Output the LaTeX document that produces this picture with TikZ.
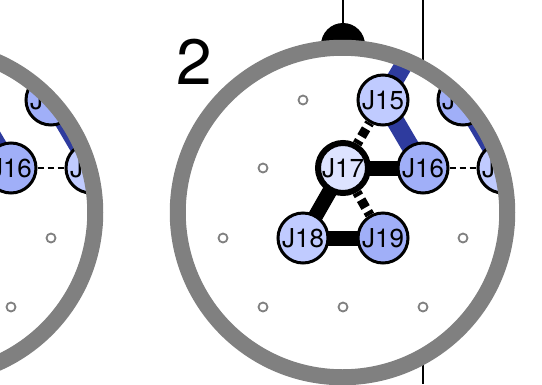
\documentclass[tikz,border=0pt]{standalone}
\usepackage{fontspec}
\setmainfont{TeX Gyre Heros}
\definecolor{qbLight}{HTML}{C0CBFF}
\definecolor{qbMid}{HTML}{A0AFF8}
\definecolor{qbPale}{HTML}{DDE3FF}
\definecolor{busBlue}{HTML}{2E3B9E}
\definecolor{ringGray}{HTML}{808080}
\pgfdeclarelayer{bg}
\pgfsetlayers{bg,main}

\begin{document}
\begin{tikzpicture}[
        x=1pt, y=-1pt,
        qubit/.style={circle, draw=black, line width=3pt, minimum size=50pt, inner sep=0pt, font=\fontsize{26pt}{26pt}\selectfont},
        light/.style={qubit, fill=qbLight},
        mid/.style={qubit, fill=qbMid},
        centre/.style={qubit, fill=qbPale, line width=6pt},
        site/.style={circle, draw=ringGray, line width=1.8pt, minimum size=9pt, inner sep=0pt},
        bus/.style={busBlue, line width=18pt},
        strong/.style={line width=15pt},
        weak/.style={line width=9.5pt, dash pattern=on 9pt off 4.5pt, dash phase=5pt},
        link/.style={line width=2.2pt, dash pattern=on 6pt off 4pt},
        ring/.style={draw=ringGray, line width=16pt},
        wire/.style={line width=2.2pt}
    ]
        \useasboundingbox (0,0) rectangle (542,384);

        % --- feed lines of the right chip ---
        \begin{pgfonlayer}{bg}
            \draw[wire] (423,0) -- (423,384);
            \draw[wire] (343,0) -- (343,30);
            \fill (343,45) circle[radius=22];
        \end{pgfonlayer}

        % --- two chips, the left one cut by the page ---
        \foreach \s/\dx in {L/-412, R/0} {
            \begin{scope}[xshift=\dx pt]
                \begin{scope}
                    \clip (342.5,212.5) circle[radius=164];
                    % empty lattice sites
                    \foreach \n/\px/\py in {a/303/100, b/263/168, c/223/238, d/463/238, e/263/307, f/343/307, g/423/307}
                        \node[site] (site\n\s) at (\px,\py) {};
                    \node[light]  (J15\s) at (383,100) {J15};
                    \node[mid]    (J16\s) at (423,168) {J16};
                    \node[centre] (J17\s) at (343,168) {J17};
                    \node[light]  (J18\s) at (303,238) {J18};
                    \node[mid]    (J19\s) at (383,238) {J19};
                    \node[mid]    (Ja\s)  at (463,100) {J\phantom{00}};
                    \node[light]  (Jb\s)  at (503,168) {J\phantom{00}};
                    \coordinate (J15up\s) at (423,32);
                \end{scope}
                \begin{pgfonlayer}{bg}
                    \fill[white] (342.5,212.5) circle[radius=172];
                    \begin{scope}
                        \clip (342.5,212.5) circle[radius=164];
                        \draw[bus] (J15\s.center) -- (J16\s.center);
                        \draw[bus] (J15\s.center) -- (J15up\s);
                        \draw[bus] (Ja\s.center) -- (Jb\s.center);
                        \draw[strong] (J17\s.center) -- (J16\s.center);
                        \draw[strong] (J17\s.center) -- (J18\s.center);
                        \draw[strong] (J18\s.center) -- (J19\s.center);
                        \draw[weak] (J17\s) -- (J15\s);
                        \draw[weak] (J17\s) -- (J19\s);
                        \draw[link] (J16\s) -- (Jb\s);
                    \end{scope}
                \end{pgfonlayer}
                \draw[ring] (342.5,212.5) circle[radius=164.75];
            \end{scope}
        }

        \node[font=\fontsize{64pt}{64pt}\selectfont, inner sep=0pt] (chipnum) at (194,62) {2};
    \end{tikzpicture}
\end{document}
